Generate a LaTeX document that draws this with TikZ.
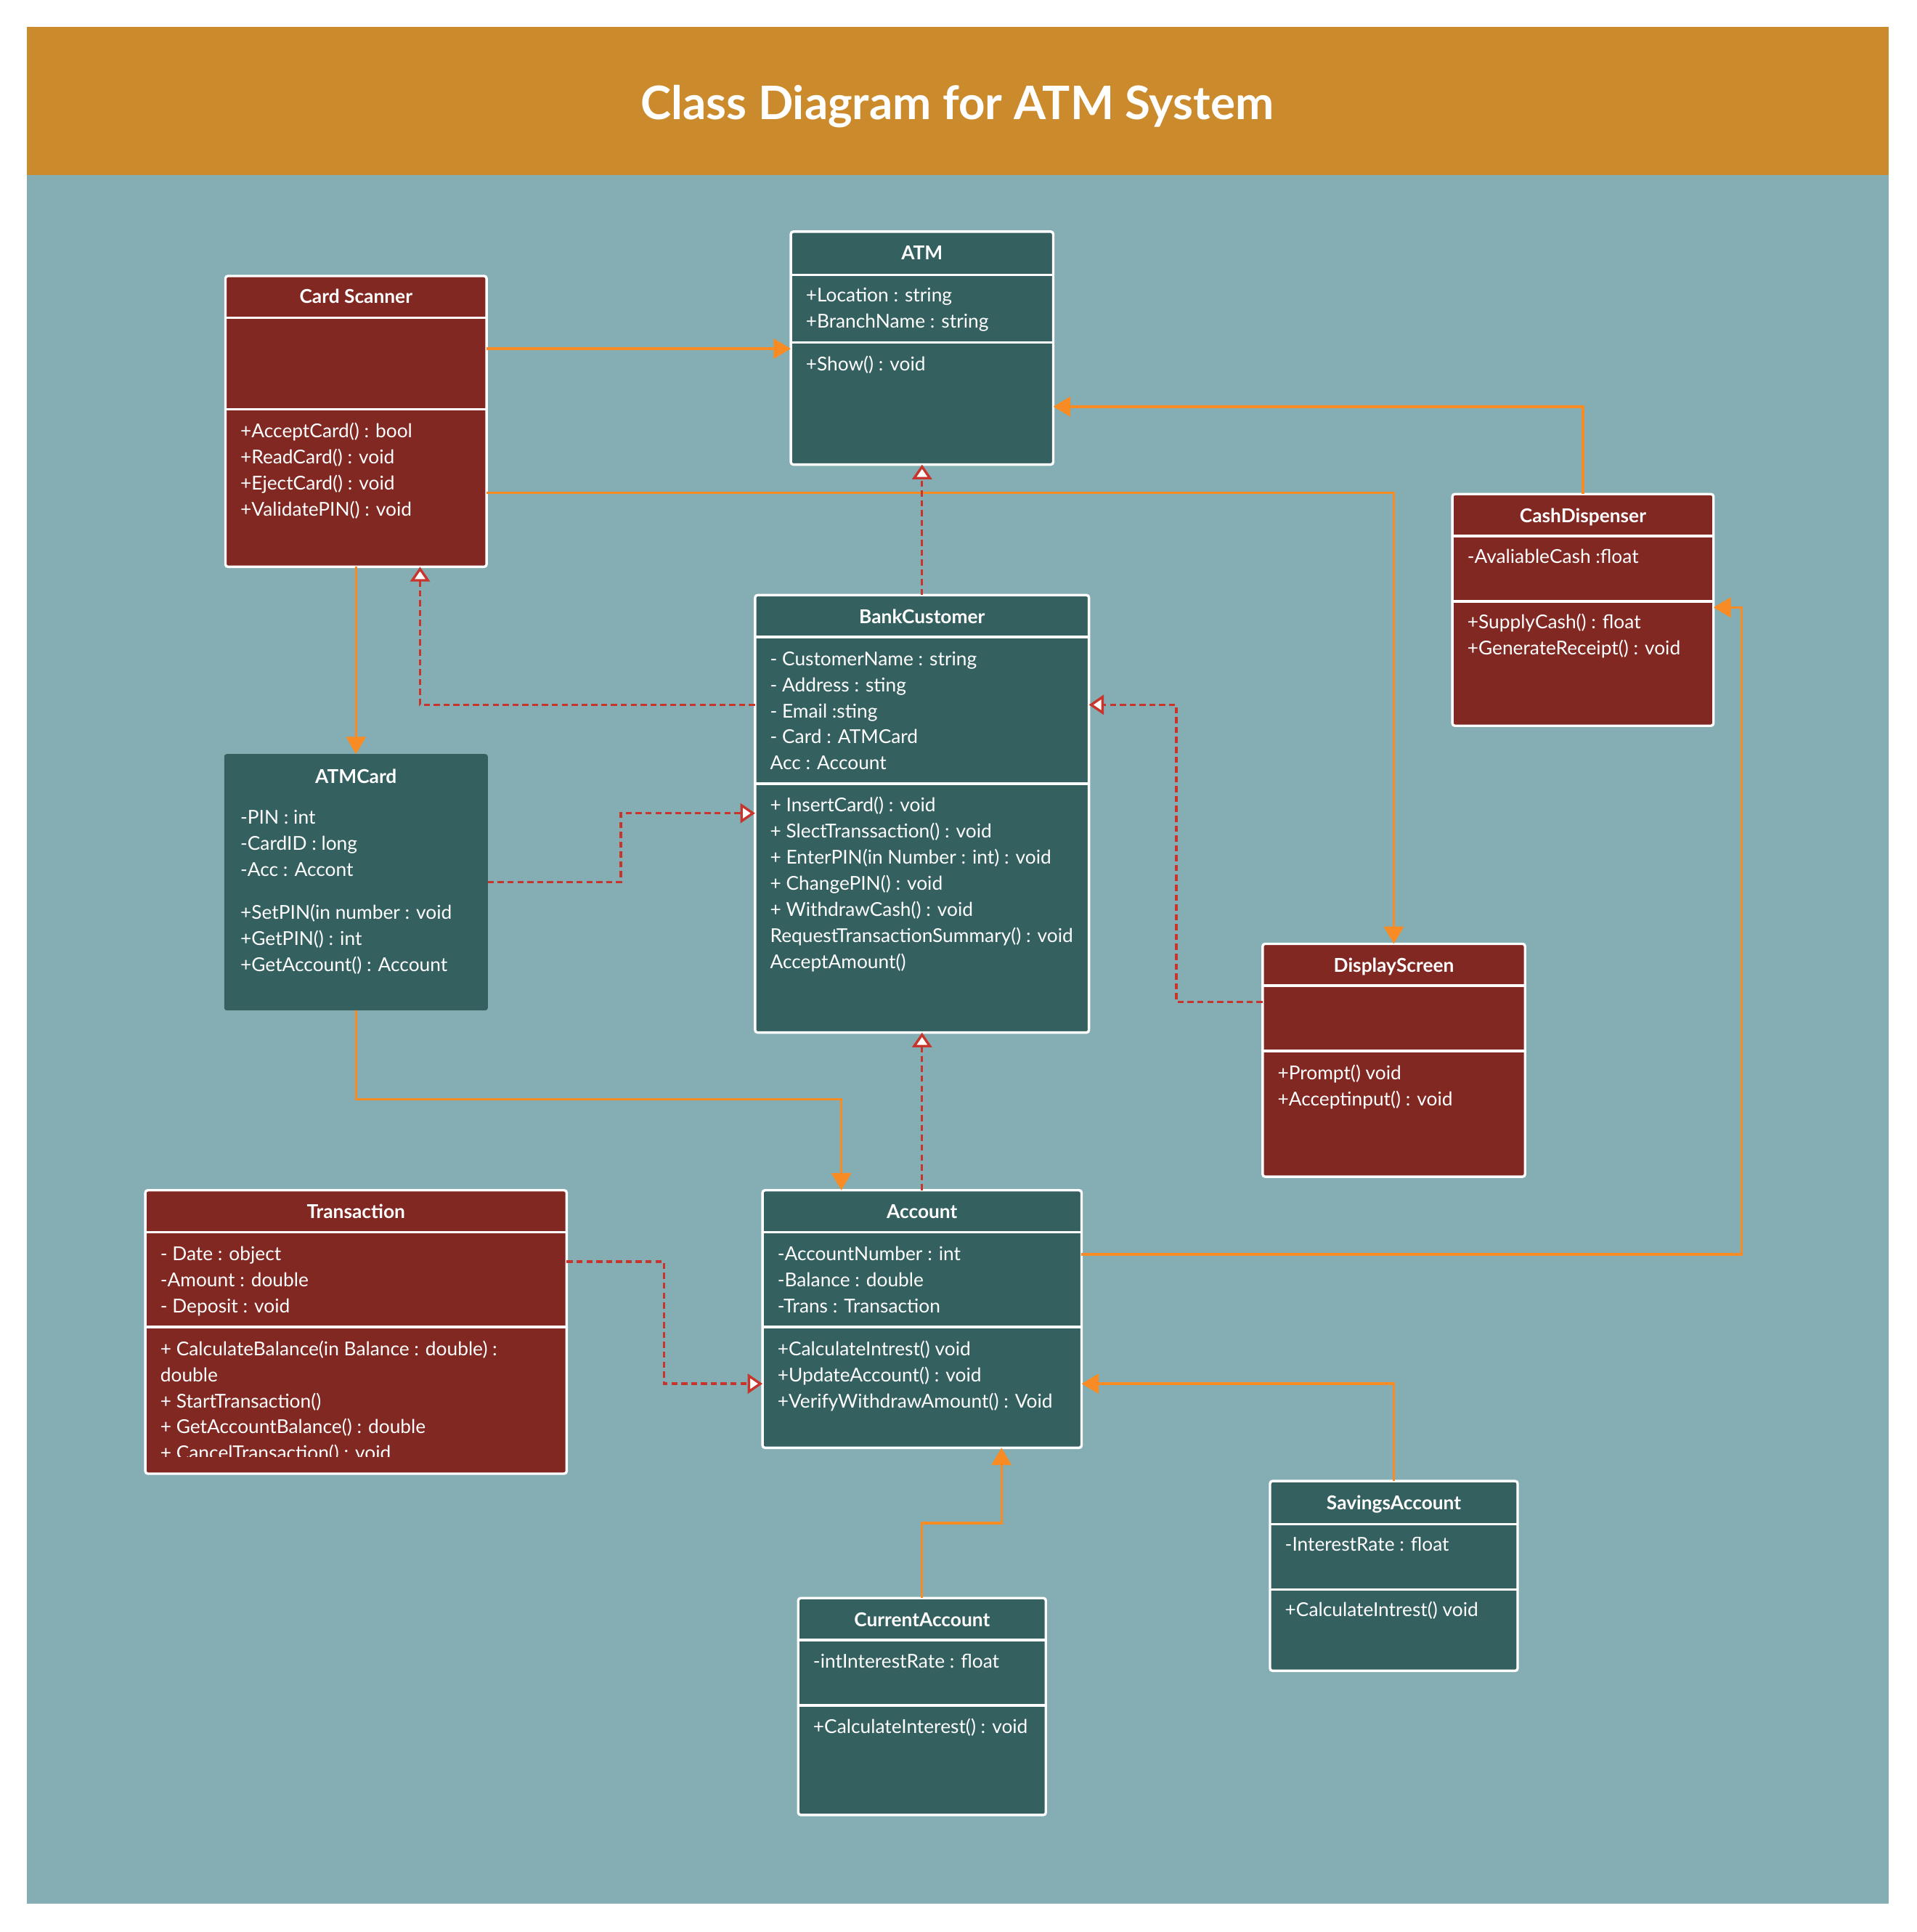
\documentclass[tikz,border=0pt]{standalone}
\usepackage{fontspec}
\setmainfont{Lato}
\usetikzlibrary{arrows.meta}
\definecolor{hdrorange}{HTML}{CB8A2B}
\definecolor{bgteal}{HTML}{84AEB3}
\definecolor{cteal}{HTML}{356060}
\definecolor{cred}{HTML}{812822}
\definecolor{lorange}{HTML}{F98B24}
\definecolor{dred}{HTML}{C8352C}
\newcommand\members[4]{%
  \foreach \mtxt [count=\mi] in {#4} {%
    \node[mem] (#1-\mi) at (#2,{#3+21.2*(\mi-1)}) {\mtxt};}}
\begin{document}
\begin{tikzpicture}[x=1pt,y=-1pt,
  box/.style={draw=white, line width=2pt, rounded corners=2pt, anchor=north west, inner sep=0pt, outer sep=0pt},
  hdr/.style={text=white, font=\fontsize{15.5}{18}\selectfont\bfseries, anchor=base, inner sep=0pt},
  mem/.style={text=white, font=\fontsize{15.5}{18}\selectfont, anchor=base west, inner sep=0pt},
  sep/.style={draw=white, line width=2pt},
  oline/.style={draw=lorange, line width=2pt, -{Triangle[length=14pt,width=16pt]}},
  dline/.style={draw=dred, line width=2pt, dash pattern=on 5pt off 3pt, -{Triangle[length=12pt,width=16pt,fill=white]}},
  titletext/.style={text=white, font=\fontsize{37.5}{42}\selectfont\bfseries, anchor=base, inner sep=0pt}]
\useasboundingbox (0,0) rectangle (1556,1568);
\fill[white] (0,0) rectangle (1556,1568);
\fill[bgteal] (22,142) rectangle (1533,1545);
\fill[hdrorange] (22,22) rectangle (1533,142);
\node[titletext] (title) at (777,97) {Class Diagram for ATM System};

% Card Scanner
\node[box, fill=cred, minimum width=212, minimum height=236] (cs) at (183,224) {};
\draw[sep] (cs.west |- 0,258) -- (cs.east |- 0,258);
\draw[sep] (cs.west |- 0,332) -- (cs.east |- 0,332);
\node[hdr] (cs-t) at (289,246) {Card Scanner};
\members{csm}{195}{355}{+AcceptCard() : bool, +ReadCard() : void, +EjectCard() : void, +ValidatePIN() : void}

% ATM
\node[box, fill=cteal, minimum width=213, minimum height=189] (atm) at (642,188) {};
\draw[sep] (atm.west |- 0,223) -- (atm.east |- 0,223);
\draw[sep] (atm.west |- 0,278) -- (atm.east |- 0,278);
\node[hdr] (atm-t) at (748.5,211) {ATM};
\members{atma}{654}{245}{+Location : string, +BranchName : string}
\members{atmm}{654}{301}{+Show() : void}

% CashDispenser
\node[box, fill=cred, minimum width=212, minimum height=188] (cd) at (1179,401) {};
\draw[sep] (cd.west |- 0,435) -- (cd.east |- 0,435);
\draw[sep] (cd.west |- 0,488) -- (cd.east |- 0,488);
\node[hdr] (cd-t) at (1285,424) {CashDispenser};
\members{cda}{1191}{457}{-AvaliableCash :float}
\members{cdm}{1191}{510}{+SupplyCash() : float, +GenerateReceipt() : void}

% BankCustomer
\node[box, fill=cteal, minimum width=271, minimum height=355] (bc) at (613,483) {};
\draw[sep] (bc.west |- 0,517) -- (bc.east |- 0,517);
\draw[sep] (bc.west |- 0,636) -- (bc.east |- 0,636);
\node[hdr] (bc-t) at (748.5,506) {BankCustomer};
\members{bca}{625}{540}{- CustomerName : string, - Address : sting, - Email :sting, - Card : ATMCard, Acc : Account}
\members{bcm}{625}{659}{+ InsertCard() : void, + SlectTranssaction()  : void, + EnterPIN(in Number : int) : void, + ChangePIN() : void, + WithdrawCash() : void, RequestTransactionSummary()  : void, AcceptAmount()}

% ATMCard
\node[box, draw=none, fill=cteal, minimum width=214, minimum height=208] (ac) at (182,612) {};
\node[hdr] (ac-t) at (289,636) {ATMCard};
\members{aca}{195}{669}{-PIN : int, -CardID : long, -Acc : Accont}
\members{acm}{195}{746}{+SetPIN(in number : void, +GetPIN() : int, +GetAccount() : Account}

% DisplayScreen
\node[box, fill=cred, minimum width=213, minimum height=189] (ds) at (1025,766) {};
\draw[sep] (ds.west |- 0,800) -- (ds.east |- 0,800);
\draw[sep] (ds.west |- 0,853) -- (ds.east |- 0,853);
\node[hdr] (ds-t) at (1131.5,789) {DisplayScreen};
\members{dsm}{1037}{876}{+Prompt() void, +Acceptinput() : void}

% Transaction
\node[box, fill=cred, minimum width=342, minimum height=230] (tr) at (118,966) {};
\draw[sep] (tr.west |- 0,1000) -- (tr.east |- 0,1000);
\draw[sep] (tr.west |- 0,1077) -- (tr.east |- 0,1077);
\node[hdr] (tr-t) at (289,989) {Transaction};
\members{tra}{130}{1023}{- Date : object, -Amount : double, - Deposit : void}
\begin{scope}
\clip (118,1080) rectangle (460,1182);
\members{trm}{130}{1100}{+ CalculateBalance(in Balance : double) :, double, + StartTransaction(), + GetAccountBalance() : double, + CancelTransaction() : void}
\end{scope}

% Account
\node[box, fill=cteal, minimum width=259, minimum height=209] (acc) at (619,966) {};
\draw[sep] (acc.west |- 0,1000) -- (acc.east |- 0,1000);
\draw[sep] (acc.west |- 0,1077) -- (acc.east |- 0,1077);
\node[hdr] (acc-t) at (748.5,989) {Account};
\members{acca}{631}{1023}{-AccountNumber : int, -Balance : double, -Trans  : Transaction}
\members{accm}{631}{1100}{+CalculateIntrest() void, +UpdateAccount() : void, +VerifyWithdrawAmount() : Void}

% SavingsAccount
\node[box, fill=cteal, minimum width=201, minimum height=154] (sa) at (1031,1202) {};
\draw[sep] (sa.west |- 0,1237) -- (sa.east |- 0,1237);
\draw[sep] (sa.west |- 0,1290) -- (sa.east |- 0,1290);
\node[hdr] (sa-t) at (1131.5,1225) {SavingsAccount};
\members{saa}{1043}{1259}{-InterestRate : float}
\members{sam}{1043}{1312}{+CalculateIntrest() void}

% CurrentAccount
\node[box, fill=cteal, minimum width=201, minimum height=176] (ca) at (648,1297) {};
\draw[sep] (ca.west |- 0,1331) -- (ca.east |- 0,1331);
\draw[sep] (ca.west |- 0,1384) -- (ca.east |- 0,1384);
\node[hdr] (ca-t) at (748.5,1320) {CurrentAccount};
\members{caa}{660}{1354}{-intInterestRate : float}
\members{cam}{660}{1407}{+CalculateInterest() : void}

% connectors
\draw[oline] (cs.east |- 0,283) -- (atm.west |- 0,283);
\draw[oline] (cs.east |- 0,400) -| (ds.north);
\draw[oline] (cd.north) |- (atm.east |- 0,330);
\draw[dline] (bc.north) -- (atm.south);
\draw[dline] (bc.west |- 0,572) -| (cs.south -| 341,0);
\draw[oline, line width=1.5pt] (cs.south) -- (ac.north);
\draw[dline] (ac.east |- 0,716) -- (504,716) |- (bc.west |- 0,660);
\draw[dline] (ds.west |- 0,813) -- (955,813) |- (bc.east |- 0,572);
\draw[oline] (ac.south) -- (289,892) -| (acc.north -| 683,0);
\draw[dline] (acc.north) -- (bc.south);
\draw[oline] (acc.east |- 0,1018) -| (1414,493) -- (cd.east |- 0,493);
\draw[dline] (tr.east |- 0,1024) -- (539,1024) |- (acc.west |- 0,1123);
\draw[oline] (sa.north) |- (acc.east |- 0,1123);
\draw[oline] (ca.north) -- (748.5,1236) -| (acc.south -| 813,0);
\end{tikzpicture}
\end{document}
